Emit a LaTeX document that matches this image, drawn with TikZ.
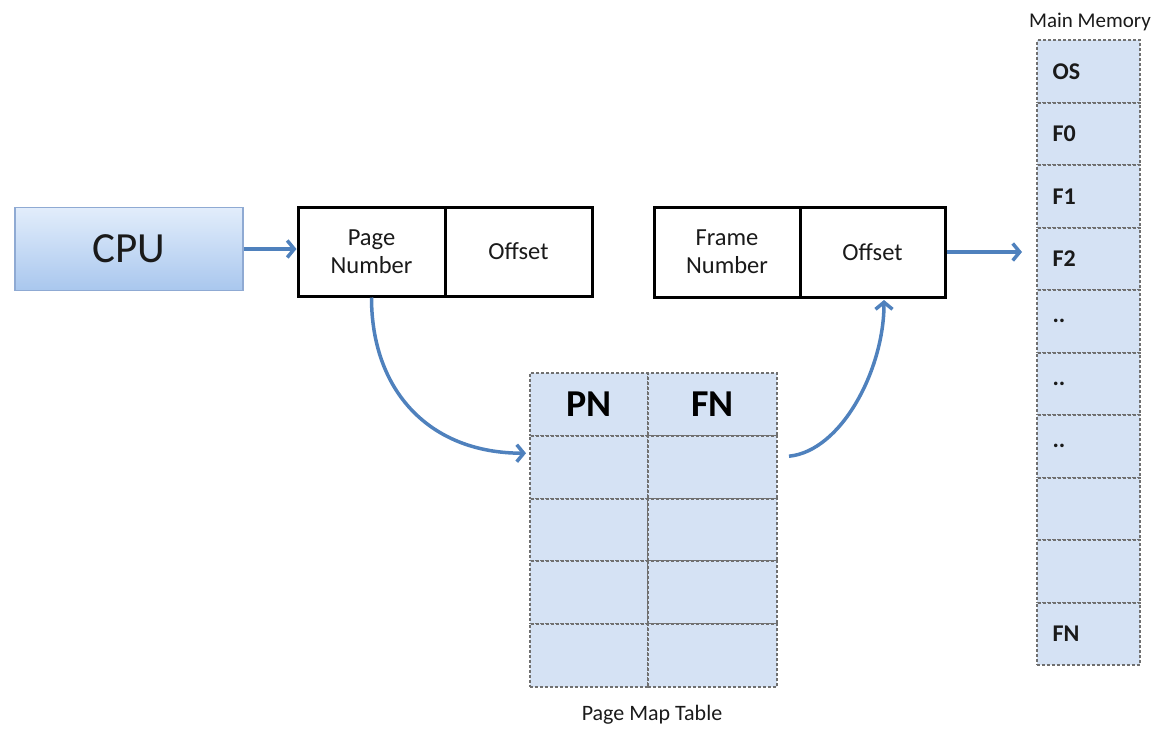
\documentclass[tikz,border=0pt]{standalone}
\usepackage{fontspec}
\setmainfont{Carlito}
\usetikzlibrary{arrows.meta,calc}
\definecolor{arrowblue}{HTML}{4F81BD}
\definecolor{cellfill}{HTML}{D5E2F4}
\definecolor{cellline}{HTML}{707070}
\definecolor{cputop}{HTML}{E2EDFB}
\definecolor{cpubot}{HTML}{A9C7EE}
\definecolor{cpuline}{HTML}{8FAAD3}
\definecolor{txt}{HTML}{1A1A1A}
\begin{document}
\begin{tikzpicture}[x=1pt,y=-1pt,
  blackbox/.style={draw=black,line width=3pt,fill=white,minimum height=89pt,inner sep=0pt,align=center,text=txt,font=\fontsize{24.5}{28}\selectfont},
  memcell/.style={draw=cellline,fill=cellfill,line width=2pt,dash pattern=on 3pt off 2pt,minimum width=103pt,minimum height=62.5pt,inner sep=0pt},
  tabcell/.style={draw=cellline,fill=cellfill,line width=2pt,dash pattern=on 3pt off 2pt,minimum height=62.8pt,inner sep=0pt,text=txt},
  memlabel/.style={anchor=west,text=txt,font=\fontsize{24}{28}\selectfont\bfseries},
  flow/.style={draw=arrowblue,line width=3.5pt,-{Straight Barb[length=7pt,width=17pt]}},
  caption/.style={text=txt}]
\useasboundingbox (0,0) rectangle (1160,729);

% CPU
\node[draw=cpuline,line width=1.5pt,top color=cputop,bottom color=cpubot,minimum width=228pt,minimum height=83pt,inner sep=0pt,text=txt,font=\fontsize{43}{48}\selectfont] (cpu) at (129,249) {CPU};

% logical address
\node[blackbox,minimum width=147pt] (pn) at (371.5,251.5) {Page\\Number};
\node[blackbox,minimum width=147pt] (off1) at (518.5,251.5) {Offset};

% physical address
\node[blackbox,minimum width=146pt,minimum height=90pt] (fnum) at (727,252) {Frame\\Number};
\node[blackbox,minimum width=145pt,minimum height=90pt] (off2) at (872.5,252) {Offset};

% main memory
\node[caption,font=\fontsize{21}{25}\selectfont] (mmlabel) at (1090,22) {Main Memory};
\foreach \i/\lab in {0/OS,1/F0,2/F1,3/F2,4/..,5/..,6/..,7/{},8/{},9/FN}{
  \node[memcell] (m\i) at (1088.5,{40+62.5*(\i+0.5)}) {};
  \node[memlabel] (ml\i) at ($(m\i.west)+(13,0)$) {\lab};
}

% page map table
\foreach \r in {0,1,2,3,4}{
  \node[tabcell,minimum width=118pt] (p\r) at (589,{373+62.8*(\r+0.5)}) {};
  \node[tabcell,minimum width=129pt] (f\r) at (712.5,{373+62.8*(\r+0.5)}) {};
}
\node[text=black,font=\fontsize{38}{42}\selectfont\bfseries] (pnh) at (p0) {PN};
\node[text=black,font=\fontsize{38}{42}\selectfont\bfseries] (fnh) at (f0) {FN};
\node[caption,font=\fontsize{22}{26}\selectfont] (pmtlabel) at (652,715) {Page Map Table};

% connectors
\draw[flow] (cpu.east) -- (cpu.east -| pn.west);
\draw[flow,shorten >=14pt] (off2.east) -- (off2.east -| m3.west);
\draw[flow,shorten >=3pt] (pn.south) .. controls +(0,93) and +(-100,0) .. ([yshift=14pt]p1.west);
\draw[flow] ([xshift=11pt,yshift=11pt]f1.east) .. controls +(52,-5) and +(0,70) .. ([xshift=11.5pt,yshift=-1.5pt]off2.south);
\end{tikzpicture}
\end{document}
